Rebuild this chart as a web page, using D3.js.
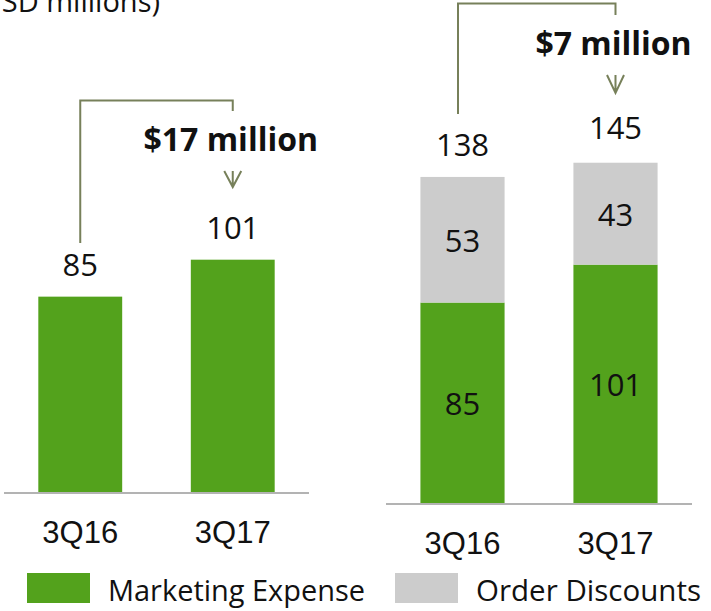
<!DOCTYPE html>
<html>
<head>
<meta charset="utf-8">
<script src="https://cdn.jsdelivr.net/npm/d3@7"></script>
<style>
  body { margin: 0; background: #fff; }
  text { font-family: "Open Sans", "Noto Sans", sans-serif; fill: #111; }
  .cat { font-family: "Liberation Sans", Arial, sans-serif; }
</style>
</head>
<body>
<script>
// chart values
let quarters = ["3Q16", "3Q17"];
let marketing = [85, 101];
let discounts = [53, 43];
let totals = [138, 145];
let increases = ["$17 million", "$7 million"];
let legendLabels = ["Marketing Expense", "Order Discounts"];
let unitLabel = "(USD millions)";

let width = 711;
let height = 611;
let green = "#53a21c";
let grey = "#cccccc";
let olive = "#77805a";

let svg = d3.select("body").append("svg")
  .attr("width", width)
  .attr("height", height);

// unit label, clipped at the top-left corner like the slide
svg.append("text")
  .attr("x", 160)
  .attr("y", 12)
  .attr("text-anchor", "end")
  .style("font-size", "29px")
  .text(unitLabel);

// two panels: left = marketing only, right = marketing + discounts stacked
let panels = [
  { range: [4, 309], base: 493, k: 2.31, stacked: false, total: marketing,
    bracket: { top: 100.5, leftEnd: 243, rightEnd: 111, dx: 0, textY: 151, arrow: [171, 187] } },
  { range: [386, 692], base: 504, k: 2.37, stacked: true, total: totals,
    bracket: { top: 3.5, leftEnd: 114, rightEnd: 15, dx: -4.5, textY: 55, arrow: [75, 93] } }
];

panels.forEach(function (p, pi) {
  let g = svg.append("g");

  let x = d3.scaleBand()
    .domain(quarters)
    .range(p.range)
    .paddingInner(0.45)
    .paddingOuter(0.225);

  let y = d3.scaleLinear()
    .domain([0, 100])
    .range([p.base, p.base - p.k * 100]);

  // green bars
  g.selectAll(".mk")
    .data(quarters)
    .join("rect")
    .attr("x", d => x(d))
    .attr("width", x.bandwidth())
    .attr("y", (d, i) => y(marketing[i]))
    .attr("height", (d, i) => y(0) - y(marketing[i]))
    .attr("fill", green);

  if (p.stacked) {
    g.selectAll(".od")
      .data(quarters)
      .join("rect")
      .attr("x", d => x(d))
      .attr("width", x.bandwidth())
      .attr("y", (d, i) => y(marketing[i] + discounts[i]))
      .attr("height", (d, i) => y(marketing[i]) - y(marketing[i] + discounts[i]))
      .attr("fill", grey);

    // values inside the segments
    quarters.forEach(function (q, i) {
      g.append("text")
        .attr("x", x(q) + x.bandwidth() / 2)
        .attr("y", (y(0) + y(marketing[i])) / 2 + 11.5)
        .attr("text-anchor", "middle")
        .style("font-size", "31px")
        .text(marketing[i]);
      g.append("text")
        .attr("x", x(q) + x.bandwidth() / 2)
        .attr("y", (y(marketing[i]) + y(marketing[i] + discounts[i])) / 2 + 12)
        .attr("text-anchor", "middle")
        .style("font-size", "31px")
        .text(discounts[i]);
    });
  }

  // baseline
  g.append("line")
    .attr("x1", p.range[0]).attr("x2", p.range[1])
    .attr("y1", p.base).attr("y2", p.base)
    .attr("stroke", "#b3b3b3")
    .attr("stroke-width", 2);

  // totals above the bars
  g.selectAll(".tot")
    .data(quarters)
    .join("text")
    .attr("x", d => x(d) + x.bandwidth() / 2)
    .attr("y", (d, i) => y(p.total[i]) - 21)
    .attr("text-anchor", "middle")
    .style("font-size", "31px")
    .text((d, i) => p.total[i]);

  // category labels
  g.selectAll(".cat")
    .data(quarters)
    .join("text")
    .attr("class", "cat")
    .attr("x", d => x(d) + x.bandwidth() / 2)
    .attr("y", p.base + 50)
    .attr("text-anchor", "middle")
    .style("font-size", "31px")
    .text(d => d);

  // bracket showing the increase
  let b = p.bracket;
  let x0 = x(quarters[0]) + x.bandwidth() / 2 + b.dx;
  let x1 = x(quarters[1]) + x.bandwidth() / 2;
  g.append("path")
    .attr("d", `M${x0},${b.leftEnd}V${b.top}H${x1}V${b.rightEnd}`)
    .attr("fill", "none")
    .attr("stroke", olive)
    .attr("stroke-width", 2);

  g.append("text")
    .attr("x", x1 - 2)
    .attr("y", b.textY)
    .attr("text-anchor", "middle")
    .style("font-size", "32px")
    .style("font-weight", "bold")
    .text(increases[pi]);

  // small down arrow
  let [a0, a1] = b.arrow;
  g.append("path")
    .attr("d", `M${x1},${a0}V${a1}M${x1 - 8.5},${a0}L${x1},${a1}L${x1 + 8.5},${a0}`)
    .attr("fill", "none")
    .attr("stroke", olive)
    .attr("stroke-width", 2);
});

// legend
let legend = svg.append("g");
let legendX = [27, 395];
let legendColors = [green, grey];
legendLabels.forEach(function (label, i) {
  legend.append("rect")
    .attr("x", legendX[i])
    .attr("y", 573)
    .attr("width", 63)
    .attr("height", 30)
    .attr("fill", legendColors[i]);
  legend.append("text")
    .attr("x", legendX[i] + 81)
    .attr("y", 601)
    .style("font-size", "29px")
    .attr("textLength", i === 0 ? 257 : 225)
    .attr("lengthAdjust", "spacingAndGlyphs")
    .text(label);
});
</script>
</body>
</html>
